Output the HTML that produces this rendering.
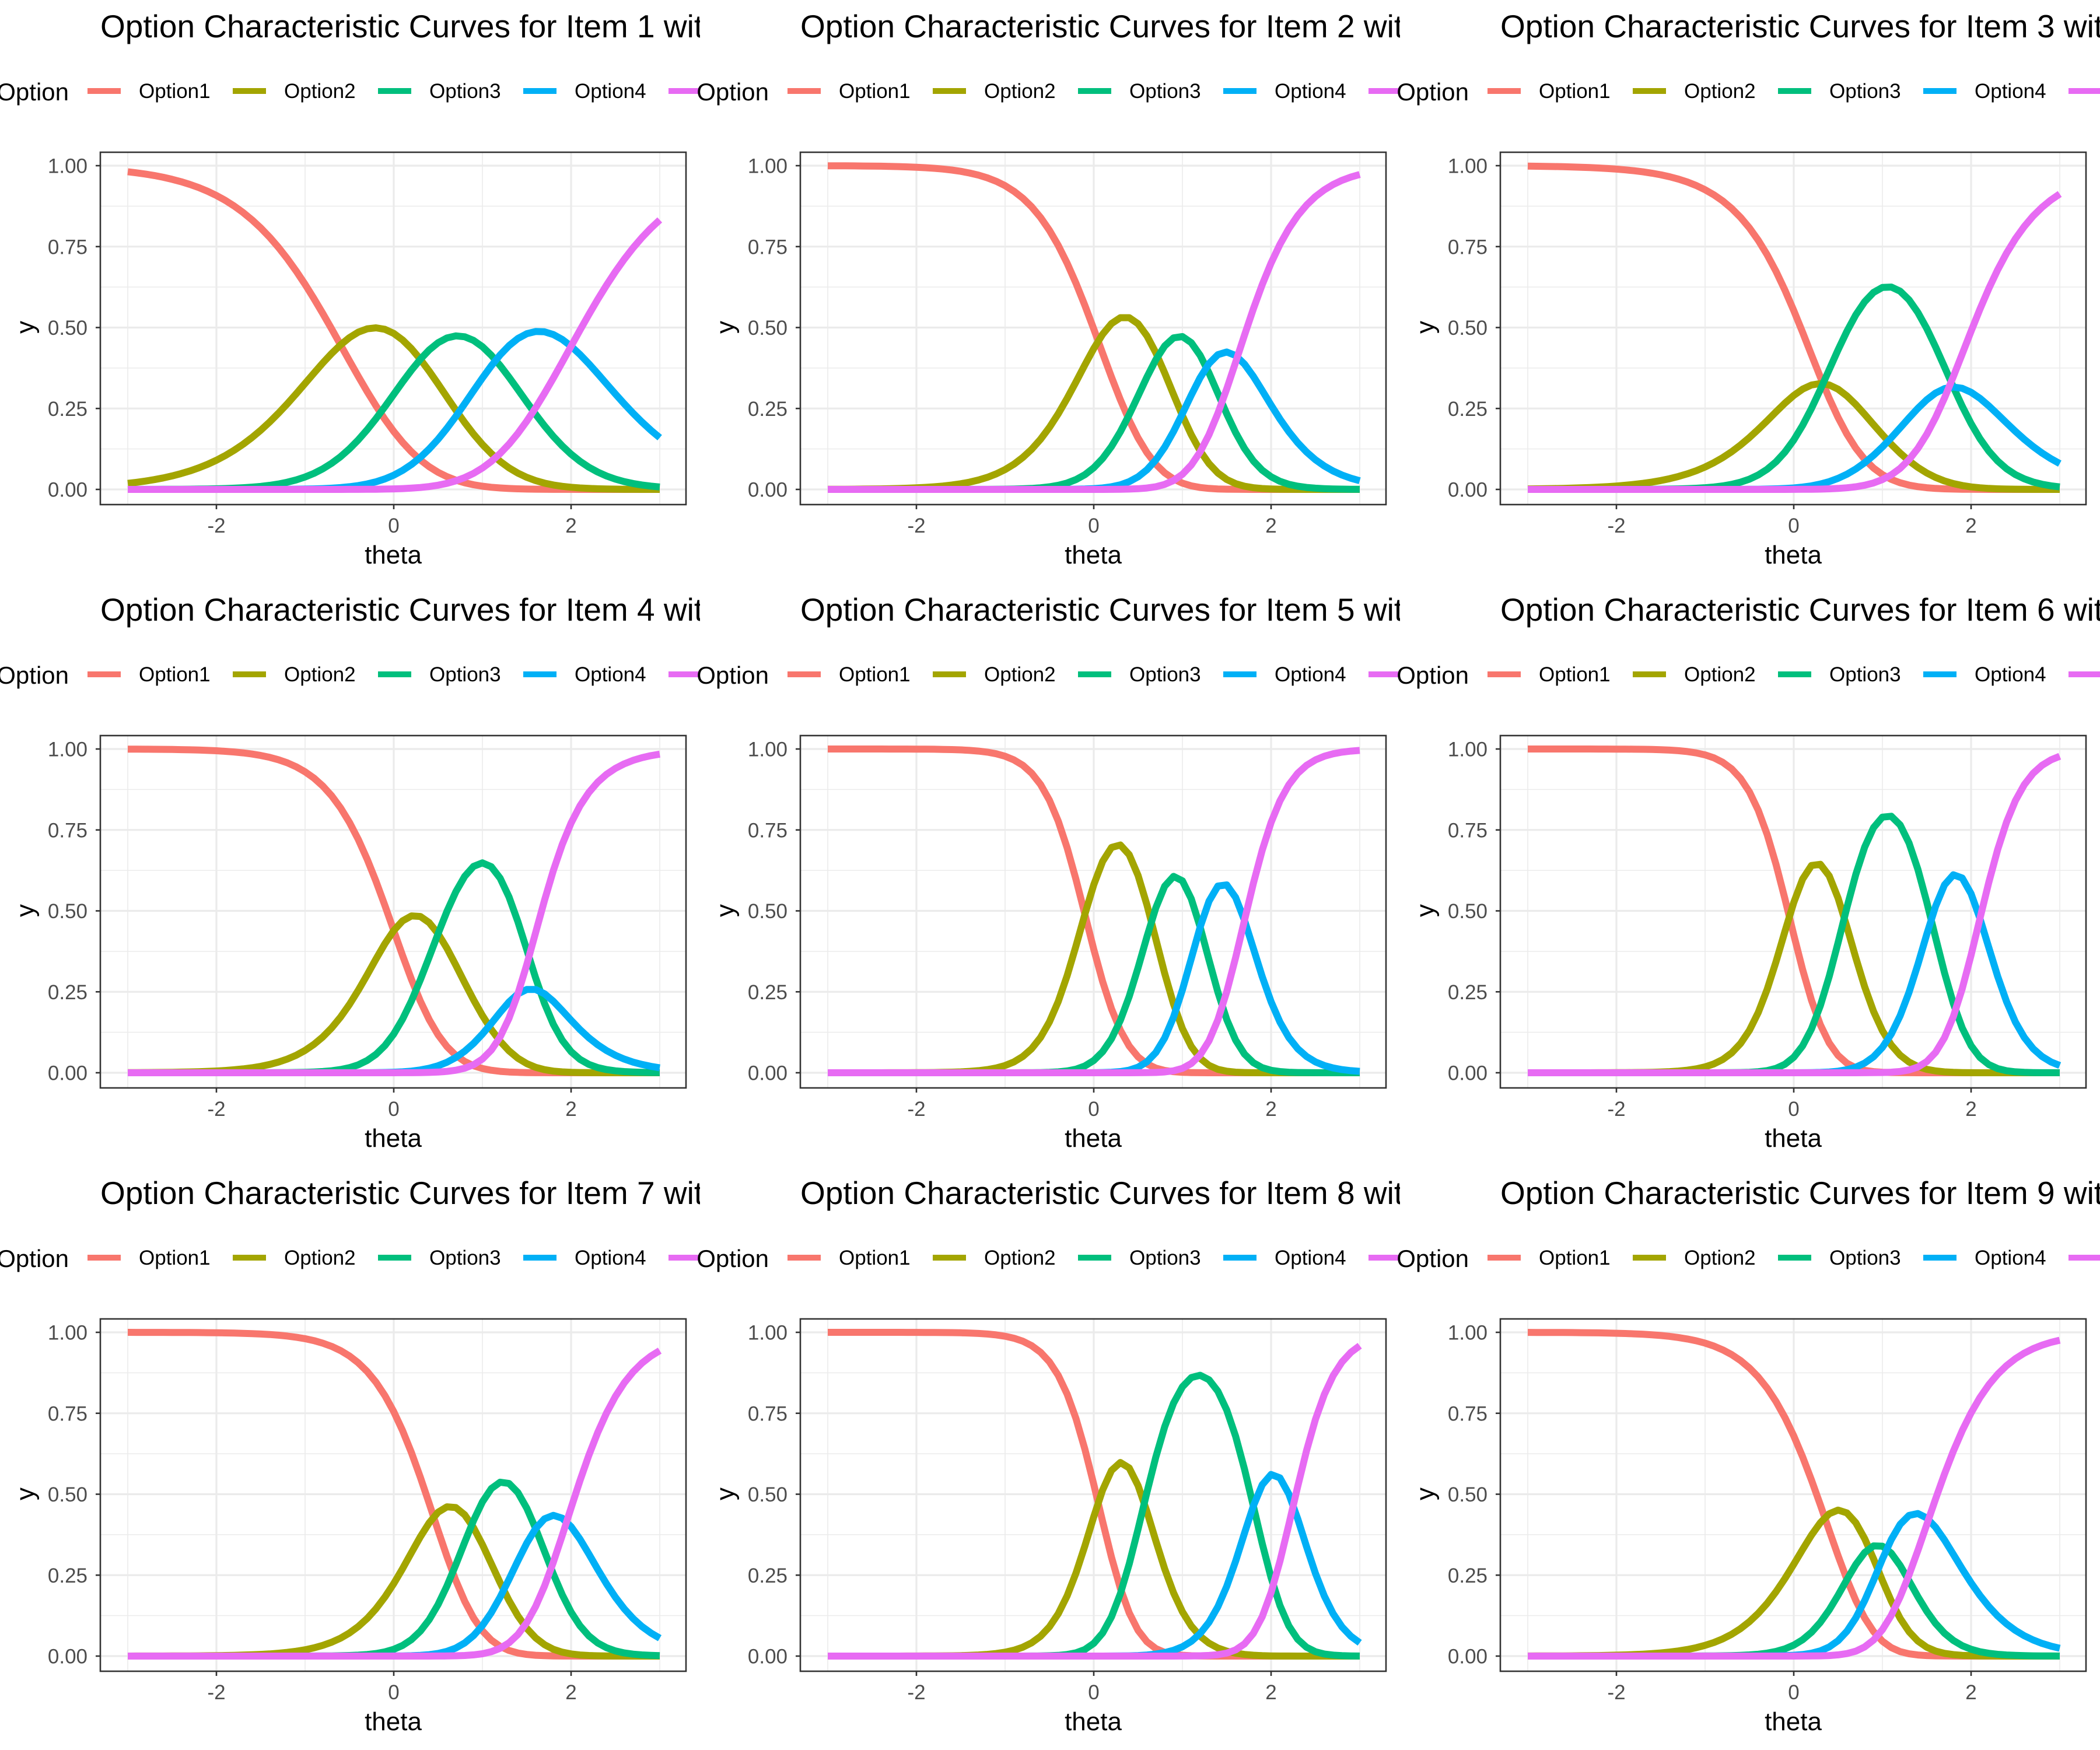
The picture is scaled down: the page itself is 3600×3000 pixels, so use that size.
<!DOCTYPE html>
<html><head><meta charset="utf-8">
<style>
html,body{margin:0;padding:0;background:#fff;}
svg{display:block;font-family:"Liberation Sans Narrow","Liberation Sans",sans-serif;}
</style></head>
<body>
<svg id="s" xmlns="http://www.w3.org/2000/svg" width="3600" height="3000" viewBox="0 0 3600 3000"></svg>
<script>
const cols=["#F8766D","#A3A500","#00BF7D","#00B0F6","#E76BF3"];
const items=[
 {s:1.65,b:[-0.6,0.3,1.15,2.0]},
 {s:2.6,b:[0.05,0.72,1.27,1.62]},
 {s:1.95,b:[0.33,0.33,1.8,1.75]},
 {s:2.6,b:[0.0,0.5,1.65,1.4]},
 {s:4.2,b:[-0.1,0.65,1.2,1.7]},
 {s:4.2,b:[-0.05,0.57,1.55,2.1]},
 {s:2.7,b:[0.45,0.88,1.6,1.95]},
 {s:4.2,b:[0.05,0.57,1.8,2.25]},
 {s:2.5,b:[0.35,0.85,1.05,1.52]}
];
let h='';
for(let i=0;i<9;i++){
 const ox=(i%3)*1200, oy=Math.floor(i/3)*1000;
 const X=t=>ox+675+152*t, Y=p=>oy+839-555*p;
 h+=`<rect x="${ox}" y="${oy}" width="1200" height="1000" fill="#fff"/>`;
 h+=`<text x="${ox+172}" y="${oy+64}" font-size="55" fill="#000">Option Characteristic Curves for Item ${i+1} with</text>`;
 h+=`<text x="${ox+118}" y="${oy+172}" font-size="42" text-anchor="end" fill="#000">Option</text>`;
 for(let k=0;k<5;k++){
  const kx=ox+150+249*k;
  h+=`<line x1="${kx}" y1="${oy+156}" x2="${kx+57}" y2="${oy+156}" stroke="${cols[k]}" stroke-width="10"/>`;
  h+=`<text x="${kx+88}" y="${oy+168}" font-size="35" fill="#000">Option${k+1}</text>`;
 }
 const L=ox+172,R=ox+1176,T=oy+261,B=oy+865;
 h+=`<rect x="${L}" y="${T}" width="${R-L}" height="${B-T}" fill="#fff"/>`;
 for(const p of [0.125,0.375,0.625,0.875]) h+=`<line x1="${L}" x2="${R}" y1="${Y(p)}" y2="${Y(p)}" stroke="#EBEBEB" stroke-width="1.6"/>`;
 for(const t of [-3,-1,1,3]) h+=`<line y1="${T}" y2="${B}" x1="${X(t)}" x2="${X(t)}" stroke="#EBEBEB" stroke-width="1.6"/>`;
 for(const p of [0,0.25,0.5,0.75,1]) h+=`<line x1="${L}" x2="${R}" y1="${Y(p)}" y2="${Y(p)}" stroke="#EBEBEB" stroke-width="3.2"/>`;
 for(const t of [-2,0,2]) h+=`<line y1="${T}" y2="${B}" x1="${X(t)}" x2="${X(t)}" stroke="#EBEBEB" stroke-width="3.2"/>`;
 const it=items[i]; const pts=[[],[],[],[],[]];
 for(let j=0;j<=60;j++){
  const t=-3+j*0.1; const lg=[0]; let acc=0;
  for(let k=0;k<4;k++){acc+=it.s*(t-it.b[k]);lg.push(acc);}
  const m=Math.max(...lg); const e=lg.map(v=>Math.exp(v-m)); const sm=e.reduce((a,b)=>a+b,0);
  for(let k=0;k<5;k++) pts[k].push(X(t).toFixed(1)+','+Y(e[k]/sm).toFixed(1));
 }
 for(let k=0;k<5;k++) h+=`<polyline points="${pts[k].join(' ')}" fill="none" stroke="${cols[k]}" stroke-width="12" stroke-linejoin="round"/>`;
 h+=`<rect x="${L}" y="${T}" width="${R-L}" height="${B-T}" fill="none" stroke="#333" stroke-width="2.6"/>`;
 for(const p of [0,0.25,0.5,0.75,1]){
  h+=`<line x1="${L-8}" x2="${L}" y1="${Y(p)}" y2="${Y(p)}" stroke="#333" stroke-width="2.6"/>`;
  h+=`<text x="${ox+150}" y="${Y(p)+12.5}" font-size="35" fill="#4D4D4D" text-anchor="end">${p.toFixed(2)}</text>`;
 }
 for(const t of [-2,0,2]){
  h+=`<line y1="${B}" y2="${B+8}" x1="${X(t)}" x2="${X(t)}" stroke="#333" stroke-width="2.6"/>`;
  h+=`<text x="${X(t)}" y="${oy+913}" font-size="35" fill="#4D4D4D" text-anchor="middle">${t}</text>`;
 }
 h+=`<text x="${ox+674}" y="${oy+966}" font-size="44" text-anchor="middle" fill="#000">theta</text>`;
 h+=`<text transform="translate(${ox+58},${oy+561}) rotate(-90)" font-size="44" text-anchor="middle" fill="#000">y</text>`;
}
document.getElementById('s').innerHTML=h;
</script>
</body></html>
